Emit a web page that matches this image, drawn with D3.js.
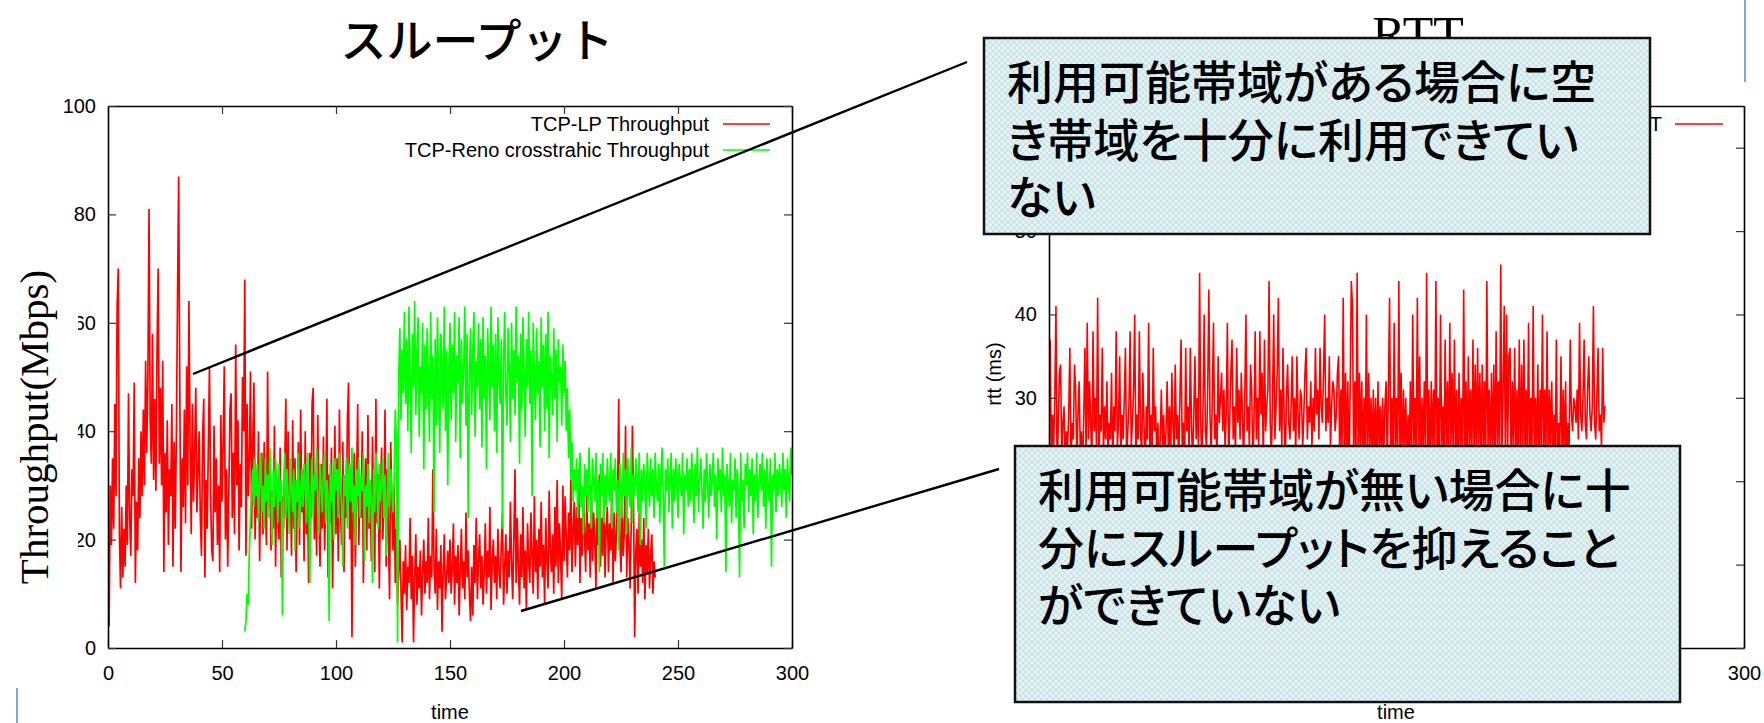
<!DOCTYPE html>
<html>
<head>
<meta charset="utf-8">
<script src="https://cdn.jsdelivr.net/npm/d3@7"></script>
<style>
  body { margin: 0; background: #fff; }
  svg { display: block; }
</style>
</head>
<body>
<script>
// sample spacing (seconds) for every series below
let sampleStep = 0.5;

// TCP-LP throughput (Mbps), from t = 0
let lpStart = 0;
let lpThroughput = [
  25, 4, 30, 19, 35, 22, 45, 28, 63, 70,
  21, 11, 26, 13, 22, 15, 30, 19, 47, 24,
  17, 33, 28, 49, 12, 27, 18, 35, 24, 40,
  28, 44, 30, 53, 36, 50, 81, 42, 34, 58,
  31, 46, 29, 55, 70, 34, 48, 30, 53, 14,
  36, 25, 42, 19, 33, 28, 45, 15, 38, 22,
  40, 65, 87, 47, 14, 35, 26, 44, 23, 52,
  30, 64, 38, 21, 45, 27, 36, 48, 25, 33,
  40, 24, 17, 39, 46, 13, 31, 22, 37, 52,
  28, 18, 16, 41, 25, 35, 19, 30, 14, 43,
  27, 38, 52, 20, 33, 15, 29, 44, 47, 24,
  36, 21, 56, 30, 42, 18, 34, 26, 50, 40,
  68, 17, 45, 28, 35, 51, 22, 38, 49, 20,
  33, 24, 40, 16, 30, 36, 21, 38, 27, 19,
  51, 26, 34, 18, 29, 22, 41, 15, 31, 24,
  20, 37, 13, 28, 22, 33, 46, 18, 40, 25,
  30, 17, 42, 22, 35, 14, 27, 38, 19, 44,
  25, 33, 16, 40, 21, 29, 12, 36, 24, 45,
  48, 20, 31, 17, 43, 26, 15, 34, 22, 39,
  18, 28, 46, 13, 32, 23, 37, 11, 27, 41,
  21, 35, 16, 44, 25, 19, 38, 14, 30, 24,
  42, 49, 20, 33, 2, 26, 36, 15, 29, 45,
  19, 31, 24, 40, 12, 27, 35, 18, 43, 22,
  30, 16, 39, 25, 14, 46, 23, 32, 11, 28,
  37, 20, 26, 44, 15, 33, 21, 9, 38, 27,
  18, 30, 12, 22, 8, 14, 20, 11, 1, 16,
  10, 19, 7, 15, 12, 24, 9, 17, 1, 13,
  21, 8, 15, 11, 18, 6, 14, 20, 10, 16,
  12, 24, 9, 17, 13, 33, 15, 10, 22, 7,
  16, 11, 19, 3, 14, 21, 9, 13, 18, 12,
  20, 10, 15, 23, 8, 17, 12, 19, 6, 14,
  22, 11, 16, 9, 25, 13, 18, 10, 5, 15,
  6, 19, 12, 24, 9, 16, 21, 11, 17, 8,
  14, 23, 10, 18, 13, 26, 7, 16, 20, 12,
  17, 9, 22, 14, 11, 19, 25, 8, 15, 21,
  10, 18, 13, 27, 16, 9, 20, 33, 12, 24,
  15, 8, 21, 13, 26, 11, 18, 7, 23, 16,
  12, 25, 17, 10, 28, 14, 20, 9, 22, 15,
  27, 13, 19, 8, 24, 16, 11, 29, 18, 14,
  21, 10, 26, 15, 31, 12, 23, 17, 9, 30,
  16, 28, 20, 13, 25, 18, 31, 14, 22, 27,
  15, 26, 19, 33, 12, 24, 17, 29, 21, 14,
  28, 18, 23, 13, 30, 16, 25, 20, 11, 27,
  19, 32, 15, 24, 17, 29, 13, 22, 26, 14,
  23, 18, 30, 12, 25, 16, 21, 28, 46, 20,
  14, 26, 17, 22, 41, 13, 24, 19, 11, 23,
  41, 27, 2, 18, 22, 10, 25, 15, 20, 12,
  24, 9, 19, 14, 22, 11, 17, 21, 10, 16,
  13
];

// TCP-Reno cross traffic throughput (Mbps), from t = 60
let renoStart = 60;
let renoThroughput = [
  3, 5, 10, 8, 18, 24, 29, 33, 26, 35,
  28, 34, 23, 31, 36, 25, 30, 22, 35, 27,
  32, 24, 37, 29, 19, 33, 26, 35, 30, 23,
  34, 27, 31, 6, 29, 36, 24, 33, 28, 21,
  35, 30, 25, 33, 18, 31, 27, 36, 22, 29,
  33, 26, 34, 29, 23, 36, 31, 12, 28, 35,
  24, 32, 29, 37, 26, 21, 34, 30, 25, 33,
  36, 23, 31, 28, 5, 34, 27, 32, 20, 35,
  29, 33, 24, 36, 30, 26, 15, 32, 28, 35,
  22, 31, 34, 27, 37, 25, 30, 19, 33, 28,
  35, 24, 32, 29, 36, 16, 30, 26, 34, 23,
  31, 28, 12, 33, 25, 36, 29, 22, 34, 27,
  30, 35, 24, 32, 17, 28, 36, 26, 33, 29,
  25, 31, 44, 38, 1, 50, 59, 42, 55, 47,
  62, 45, 57, 40, 63, 51, 36, 58, 48, 64,
  43, 55, 61, 39, 52, 47, 60, 33, 56, 44,
  59, 50, 38, 62, 46, 54, 25, 57, 41, 61,
  49, 36, 58, 53, 44, 63, 40, 55, 30, 52,
  60, 42, 56, 47, 62, 38, 54, 49, 61, 35,
  57, 45, 52, 63, 41, 58, 24, 50, 59, 43,
  55, 62, 39, 53, 48, 60, 44, 57, 37, 61,
  46, 54, 33, 59, 51, 42, 63, 48, 56, 40,
  58, 36, 61, 50, 45, 57, 22, 53, 62, 47,
  41, 59, 52, 38, 60, 46, 55, 43, 63, 49,
  54, 34, 58, 44, 61, 51, 39, 57, 48, 62,
  45, 55, 28, 60, 50, 42, 59, 47, 53, 37,
  61, 48, 56, 40, 58, 44, 62, 35, 54, 50,
  43, 59, 46, 55, 38, 57, 49, 52, 41, 56,
  47, 53, 40, 48, 35, 44, 31, 38, 27, 33,
  29, 35, 24, 32, 36, 26, 30, 21, 34, 28,
  33, 25, 37, 29, 22, 35, 31, 27, 36, 24,
  31, 14, 34, 28, 36, 23, 32, 26, 35, 30,
  27, 36, 22, 33, 29, 35, 25, 31, 18, 34,
  30, 24, 36, 28, 33, 21, 35, 29, 26, 37,
  23, 32, 28, 35, 30, 25, 36, 19, 33, 27,
  34, 29, 22, 36, 31, 26, 35, 28, 33, 24,
  36, 30, 27, 34, 23, 32, 37, 28, 15, 33,
  29, 35, 25, 31, 36, 22, 33, 27, 35, 30,
  24, 34, 31, 28, 36, 21, 32, 29, 35, 26,
  33, 27, 36, 30, 23, 34, 28, 37, 25, 31,
  35, 29, 22, 33, 27, 36, 30, 24, 34, 28,
  31, 36, 26, 32, 20, 35, 29, 33, 25, 37,
  28, 32, 14, 34, 30, 26, 36, 23, 31, 29,
  35, 24, 33, 28, 13, 36, 27, 31, 22, 34,
  30, 36, 25, 33, 28, 35, 21, 32, 27, 36,
  24, 31, 34, 29, 36, 26, 33, 22, 35, 30,
  27, 35, 15, 32, 29, 36, 25, 33, 28, 34,
  31, 26, 36, 29, 33, 24, 35, 30, 27, 37,
  32
];

// RTT (ms), from t = 0
let rttStart = 0;
let rttValues = [
  26, 37, 22, 28, 24, 30, 41, 21, 27, 33,
  34, 23, 27, 29, 21, 26, 24, 28, 36, 22,
  27, 25, 34, 31, 22, 28, 32, 24, 26, 21,
  28, 36, 23, 39, 25, 32, 27, 22, 38, 26,
  30, 24, 42, 21, 28, 26, 36, 23, 29, 25,
  32, 22, 27, 25, 33, 21, 29, 26, 38, 24,
  27, 35, 23, 28, 25, 30, 36, 22, 26, 29,
  38, 24, 27, 31, 40, 22, 28, 25, 38, 26,
  23, 33, 27, 21, 29, 25, 39, 24, 28, 22,
  36, 26, 29, 23, 27, 21, 25, 31, 24, 28,
  22, 26, 32, 24, 29, 21, 33, 27, 23, 34,
  25, 28, 22, 30, 37, 24, 27, 21, 36, 26,
  29, 23, 36, 27, 22, 28, 35, 25, 30, 24,
  45, 27, 22, 29, 40, 26, 24, 31, 43, 28,
  23, 30, 39, 25, 28, 22, 35, 27, 30, 33,
  26, 31, 24, 28, 39, 22, 27, 33, 37, 25,
  29, 23, 36, 27, 31, 25, 33, 28, 22, 30,
  40, 26, 29, 24, 34, 31, 22, 27, 38, 25,
  30, 24, 38, 28, 33, 22, 37, 26, 29, 31,
  44, 27, 23, 30, 40, 25, 29, 33, 42, 26,
  31, 24, 36, 28, 22, 30, 34, 27, 25, 29,
  35, 26, 30, 23, 35, 28, 25, 31, 30, 24,
  28, 33, 36, 25, 29, 27, 32, 24, 30, 26,
  36, 28, 31, 25, 36, 29, 27, 33, 40, 26,
  30, 27, 35, 24, 29, 32, 31, 26, 28, 33,
  35, 22, 31, 24, 42, 21, 33, 23, 32, 20,
  31, 44, 41, 22, 32, 23, 45, 21, 33, 24,
  32, 22, 30, 23, 40, 21, 33, 24, 30, 22,
  31, 23, 30, 21, 32, 24, 29, 22, 30, 23,
  29, 32, 22, 31, 42, 23, 30, 21, 39, 24,
  30, 22, 44, 23, 33, 21, 31, 24, 30, 22,
  28, 23, 32, 21, 40, 24, 30, 22, 42, 23,
  35, 21, 30, 24, 32, 22, 45, 23, 31, 21,
  32, 24, 31, 22, 44, 23, 30, 21, 40, 24,
  29, 22, 37, 23, 32, 21, 39, 24, 33, 22,
  37, 23, 31, 21, 33, 24, 30, 22, 43, 23,
  32, 21, 35, 24, 31, 22, 37, 23, 34, 21,
  36, 24, 33, 22, 34, 23, 32, 21, 44, 24,
  31, 22, 33, 23, 34, 21, 38, 24, 32, 22,
  46, 23, 31, 41, 22, 40, 24, 35, 36, 21,
  32, 24, 36, 22, 31, 23, 37, 21, 34, 24,
  37, 22, 31, 23, 39, 21, 30, 24, 41, 22,
  30, 23, 34, 21, 31, 24, 40, 22, 31, 23,
  38, 21, 31, 24, 32, 22, 28, 23, 37, 21,
  27, 24, 35, 22, 31, 23, 32, 21, 27, 24,
  37, 28, 26, 30, 29, 27, 31, 25, 39, 28,
  26, 30, 37, 27, 25, 31, 35, 28, 26, 29,
  41, 27, 25, 30, 36, 26, 28, 24, 36, 27,
  29
];

let timeTicks = [0, 50, 100, 150, 200, 250, 300];
let throughputTicks = [0, 20, 40, 60, 80, 100];
let rttTicks = [0, 10, 20, 30, 40, 50, 60];

let legendLeft = ['TCP-LP Throughput', 'TCP-Reno crosstrahic Throughput'];
let legendRight = ['RTT'];

let noteTop = ['利用可能帯域がある場合に空', 'き帯域を十分に利用できてい', 'ない'];
let noteBottom = ['利用可能帯域が無い場合に十', '分にスループットを抑えること', 'ができていない'];

let sansFont = '"Liberation Sans", Arial, sans-serif';
let serifFont = '"Liberation Serif", "Times New Roman", serif';
let cjkFont = '"Noto Sans CJK JP", "Noto Sans CJK SC", sans-serif';

let svg = d3.select('body').append('svg')
    .attr('width', 1764)
    .attr('height', 723);

let defs = svg.append('defs');

let hatch = defs.append('pattern')
    .attr('id', 'hatch')
    .attr('width', 6)
    .attr('height', 6)
    .attr('patternUnits', 'userSpaceOnUse');
hatch.append('rect').attr('width', 6).attr('height', 6).attr('fill', '#e4f2f3');
hatch.append('path')
    .attr('d', 'M0,0 L6,6 M6,0 L0,6')
    .attr('stroke', '#b9dcdf')
    .attr('stroke-width', 0.8);

let toPoints = (values, start) => values.map((v, i) => [start + i * sampleStep, v]);

// draws one gnuplot-like frame with mirrored inward ticks
let drawFrame = (g, x, y, yTicks, showXLabels) => {
    let [x0, x1] = x.range();
    let [y0, y1] = y.range();

    let bottom = g.append('g')
        .attr('transform', `translate(0,${y0})`)
        .call(d3.axisBottom(x).tickValues(timeTicks).tickSize(-8).tickSizeOuter(0).tickPadding(18)
            .tickFormat(showXLabels ? d3.format('d') : ''));
    let top = g.append('g')
        .attr('transform', `translate(0,${y1})`)
        .call(d3.axisTop(x).tickValues(timeTicks).tickSize(-8).tickSizeOuter(0).tickFormat(''));
    let left = g.append('g')
        .attr('transform', `translate(${x0},0)`)
        .call(d3.axisLeft(y).tickValues(yTicks).tickSize(-8).tickSizeOuter(0).tickPadding(12));
    let right = g.append('g')
        .attr('transform', `translate(${x1},0)`)
        .call(d3.axisRight(y).tickValues(yTicks).tickSize(-8).tickSizeOuter(0).tickFormat(''));

    [bottom, top, left, right].forEach(a => {
        a.attr('font-family', sansFont).attr('font-size', 20);
        a.select('.domain').attr('stroke', '#000').attr('stroke-width', 1.6);
        a.selectAll('.tick line').attr('stroke', '#333').attr('stroke-width', 1.2);
        a.selectAll('.tick text').attr('fill', '#000');
    });
};

// ---------- left chart: throughput ----------
let lx = d3.scaleLinear().domain([0, 300]).range([108, 792]);
let ly = d3.scaleLinear().domain([0, 100]).range([648, 106]);

let left = svg.append('g');

defs.append('clipPath').attr('id', 'clipLeft')
    .append('rect').attr('x', 108).attr('y', 106).attr('width', 684).attr('height', 542);

let lineLeft = d3.line().x(d => lx(d[0])).y(d => ly(d[1]));

let leftData = left.append('g').attr('clip-path', 'url(#clipLeft)');

leftData.append('path')
    .datum(toPoints(lpThroughput, lpStart))
    .attr('d', lineLeft)
    .attr('fill', 'none')
    .attr('stroke', '#ff0000')
    .attr('stroke-width', 1.7);

leftData.append('path')
    .datum(toPoints(renoThroughput, renoStart))
    .attr('d', lineLeft)
    .attr('fill', 'none')
    .attr('stroke', '#00ff00')
    .attr('stroke-width', 1.7);

drawFrame(left, lx, ly, throughputTicks, true);

// legend
let legendColors = ['#ff0000', '#00ff00'];
legendLeft.forEach((name, i) => {
    let yy = 124 + i * 26;
    left.append('text')
        .attr('x', 709).attr('y', yy)
        .attr('dy', '0.35em')
        .attr('text-anchor', 'end')
        .attr('font-family', sansFont)
        .attr('font-size', 20)
        .text(name);
    left.append('line')
        .attr('x1', 723).attr('x2', 770)
        .attr('y1', yy).attr('y2', yy)
        .attr('stroke', legendColors[i])
        .attr('stroke-width', 1.3);
});

left.append('text')
    .attr('x', lx(150)).attr('y', 719)
    .attr('text-anchor', 'middle')
    .attr('font-family', sansFont)
    .attr('font-size', 20)
    .text('time');

// the y title sits in its own white box over the tick labels
left.append('rect')
    .attr('x', 8).attr('y', 262)
    .attr('width', 70).attr('height', 330)
    .attr('fill', '#fff');
left.append('text')
    .attr('transform', 'translate(48,427) rotate(-90)')
    .attr('text-anchor', 'middle')
    .attr('font-family', serifFont)
    .attr('font-size', 41)
    .text('Throughput(Mbps)');

left.append('text')
    .attr('x', 477).attr('y', 57)
    .attr('text-anchor', 'middle')
    .attr('font-family', cjkFont)
    .attr('font-size', 46)
    .attr('font-weight', 500)
    .text('スループット');

// ---------- right chart: RTT ----------
let rx = d3.scaleLinear().domain([0, 300]).range([1049, 1744]);
let ry = d3.scaleLinear().domain([0, 65]).range([648, 106]);

let right = svg.append('g');

defs.append('clipPath').attr('id', 'clipRight')
    .append('rect').attr('x', 1049).attr('y', 106).attr('width', 695).attr('height', 542);

right.append('g').attr('clip-path', 'url(#clipRight)')
    .append('path')
    .datum(toPoints(rttValues, rttStart))
    .attr('d', d3.line().x(d => rx(d[0])).y(d => ry(d[1])))
    .attr('fill', 'none')
    .attr('stroke', '#ff0000')
    .attr('stroke-width', 1.6);

drawFrame(right, rx, ry, rttTicks, true);

legendRight.forEach((name, i) => {
    let yy = 124 + i * 26;
    right.append('text')
        .attr('x', 1662).attr('y', yy)
        .attr('dy', '0.35em')
        .attr('text-anchor', 'end')
        .attr('font-family', sansFont)
        .attr('font-size', 20)
        .text(name);
    right.append('line')
        .attr('x1', 1675).attr('x2', 1723)
        .attr('y1', yy).attr('y2', yy)
        .attr('stroke', '#ff0000')
        .attr('stroke-width', 1.3);
});

right.append('text')
    .attr('x', 1396).attr('y', 719)
    .attr('text-anchor', 'middle')
    .attr('font-family', sansFont)
    .attr('font-size', 20)
    .text('time');

right.append('text')
    .attr('transform', 'translate(1001,374) rotate(-90)')
    .attr('text-anchor', 'middle')
    .attr('font-family', sansFont)
    .attr('font-size', 20)
    .text('rtt (ms)');

right.append('text')
    .attr('x', 1418).attr('y', 51)
    .attr('text-anchor', 'middle')
    .attr('font-family', serifFont)
    .attr('font-size', 50)
    .text('RTT');

// ---------- callouts ----------
let callouts = svg.append('g');

callouts.append('line')
    .attr('x1', 193).attr('y1', 374).attr('x2', 967).attr('y2', 62)
    .attr('stroke', '#000').attr('stroke-width', 2.4);
callouts.append('line')
    .attr('x1', 521).attr('y1', 611).attr('x2', 999).attr('y2', 469)
    .attr('stroke', '#000').attr('stroke-width', 2.4);

let drawNote = (x, y, w, h, lines, tx, ty) => {
    callouts.append('rect')
        .attr('x', x).attr('y', y)
        .attr('width', w).attr('height', h)
        .attr('fill', 'url(#hatch)')
        .attr('stroke', '#111')
        .attr('stroke-width', 2.5);
    lines.forEach((s, i) => {
        callouts.append('text')
            .attr('x', tx).attr('y', ty + i * 57.5)
            .attr('font-family', cjkFont)
            .attr('font-size', 46)
            .attr('font-weight', 500)
            .style('font-feature-settings', '"palt"')
            .attr('fill', '#000')
            .text(s);
    });
};

drawNote(984, 38, 666, 196, noteTop, 1007, 99);
drawNote(1015, 446, 665, 256, noteBottom, 1038, 507);

// slide cursor marks
svg.append('line')
    .attr('x1', 17).attr('x2', 17).attr('y1', 688).attr('y2', 723)
    .attr('stroke', '#7aa6ee').attr('stroke-width', 2);
svg.append('line')
    .attr('x1', 1745).attr('x2', 1745).attr('y1', 0).attr('y2', 82)
    .attr('stroke', '#7aa6ee').attr('stroke-width', 2);
</script>
</body>
</html>
